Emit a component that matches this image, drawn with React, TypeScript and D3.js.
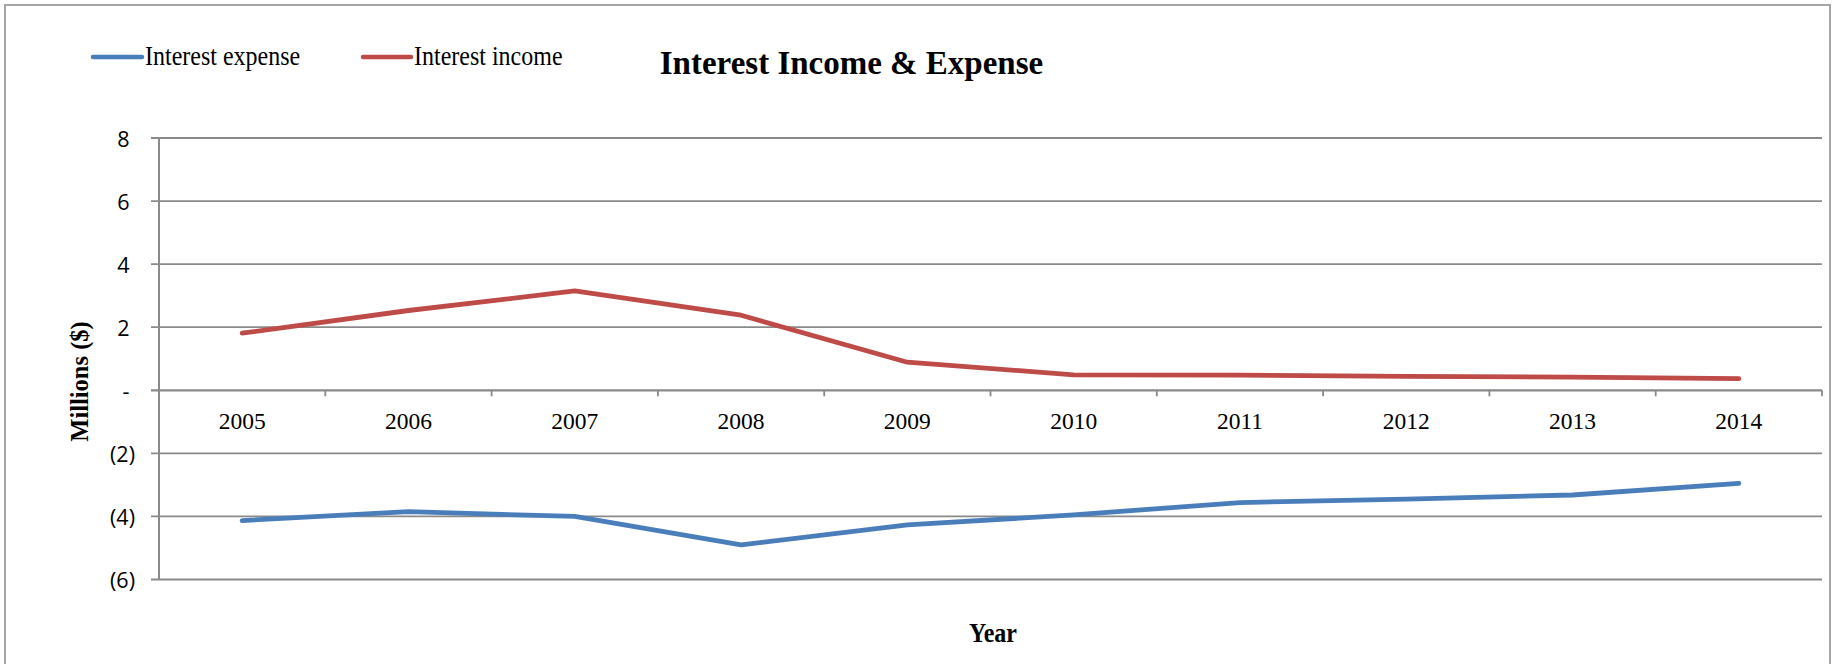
import React from "react";
import * as d3 from "d3";

const years = ["2005", "2006", "2007", "2008", "2009", "2010", "2011", "2012", "2013", "2014"];
const interestExpense = [-4.13, -3.85, -4.0, -4.9, -4.27, -3.95, -3.56, -3.45, -3.32, -2.95];
const interestIncome = [1.81, 2.53, 3.15, 2.38, 0.89, 0.49, 0.48, 0.44, 0.42, 0.37];
const yTickValues = [-6, -4, -2, 0, 2, 4, 6, 8];
const yTickLabels = ["(6)", "(4)", "(2)", "-", "2", "4", "6", "8"];
const seriesNames = ["Interest expense", "Interest income"];
const seriesColors = ["#4A7EBB", "#BE4B48"];
const title = "Interest Income & Expense";
const xTitle = "Year";
const yTitle = "Millions ($)";

const W = 1836;
const H = 664;
const left = 159;
const right = 1822;
const top = 138;
const bottom = 579.5;

export default function App() {
  const x = d3.scaleBand<string>().domain(years).range([left, right]).padding(0);
  const y = d3.scaleLinear().domain([-6, 8]).range([bottom, top]);
  const cx = (yr: string) => (x(yr) as number) + x.bandwidth() / 2;
  const line = d3
    .line<number>()
    .x((_, i) => cx(years[i]))
    .y((d) => y(d));
  const series = [interestExpense, interestIncome];
  const gridColor = "#8a8a8a";
  const serif = "'Liberation Serif', 'Times New Roman', serif";
  const sans = "'Open Sans', 'Noto Sans', sans-serif";
  const boundaries = [...years.map((yr) => x(yr) as number), right];
  const legendItems = [
    { lx1: 93, lx2: 142, tx: 145 },
    { lx1: 363, lx2: 411, tx: 414 },
  ];

  return (
    <svg
      width={W}
      height={H}
      style={{ position: "absolute", left: 0, top: 0, background: "#fff" }}
      xmlns="http://www.w3.org/2000/svg"
    >
      <rect x={5} y={5} width={1825} height={700} fill="#fff" stroke="#a6a6a6" strokeWidth={2} />

      {/* gridlines */}
      {yTickValues.map((v) => (
        <line
          key={"g" + v}
          x1={151}
          x2={right}
          y1={y(v)}
          y2={y(v)}
          stroke={gridColor}
          strokeWidth={v === 0 ? 2.2 : 1.8}
        />
      ))}
      {/* left axis */}
      <line x1={left} x2={left} y1={top} y2={bottom} stroke={gridColor} strokeWidth={2} />
      {/* category ticks */}
      {boundaries.map((bx, i) => (
        <line key={"t" + i} x1={bx} x2={bx} y1={y(0)} y2={y(0) + 6} stroke={gridColor} strokeWidth={1.8} />
      ))}

      {/* y tick labels */}
      {yTickValues.map((v, i) => {
        const lab = yTickLabels[i];
        const endX = lab.endsWith(")") ? 135 : 129.5;
        return (
          <text
            key={"yl" + v}
            x={endX}
            y={y(v)}
            textAnchor="end"
            dominantBaseline="central"
            fontFamily={sans}
            fontSize={21.5}
            fill="#000"
          >
            {lab}
          </text>
        );
      })}

      {/* x tick labels */}
      {years.map((yr) => (
        <text
          key={"xl" + yr}
          x={cx(yr)}
          y={429}
          textAnchor="middle"
          fontFamily={serif}
          fontSize={23.5}
          fill="#000"
        >
          {yr}
        </text>
      ))}

      {/* series */}
      {series.map((s, i) => (
        <path
          key={"s" + i}
          d={line(s) || ""}
          fill="none"
          stroke={seriesColors[i]}
          strokeWidth={4.8}
          strokeLinecap="round"
          strokeLinejoin="round"
        />
      ))}

      {/* legend */}
      {legendItems.map((it, i) => (
        <g key={"lg" + i}>
          <line
            x1={it.lx1}
            x2={it.lx2}
            y1={57}
            y2={57}
            stroke={seriesColors[i]}
            strokeWidth={4.5}
            strokeLinecap="round"
          />
          <g transform={`translate(${it.tx},65) scale(1,1.12)`}>
            <text x={0} y={0} fontFamily={serif} fontSize={24} fill="#000">
              {seriesNames[i]}
            </text>
          </g>
        </g>
      ))}

      {/* title */}
      <text x={851.5} y={74} textAnchor="middle" fontFamily={serif} fontWeight="bold" fontSize={33} fill="#000">
        {title}
      </text>

      {/* axis titles */}
      <text
        transform={`translate(88,381.5) rotate(-90)`}
        textAnchor="middle"
        fontFamily={serif}
        fontWeight="bold"
        fontSize={24.5}
        fill="#000"
      >
        {yTitle}
      </text>
      <g transform="translate(993,641.5) scale(1,1.12)">
        <text x={0} y={0} textAnchor="middle" fontFamily={serif} fontWeight="bold" fontSize={24} fill="#000">
          {xTitle}
        </text>
      </g>
    </svg>
  );
}
